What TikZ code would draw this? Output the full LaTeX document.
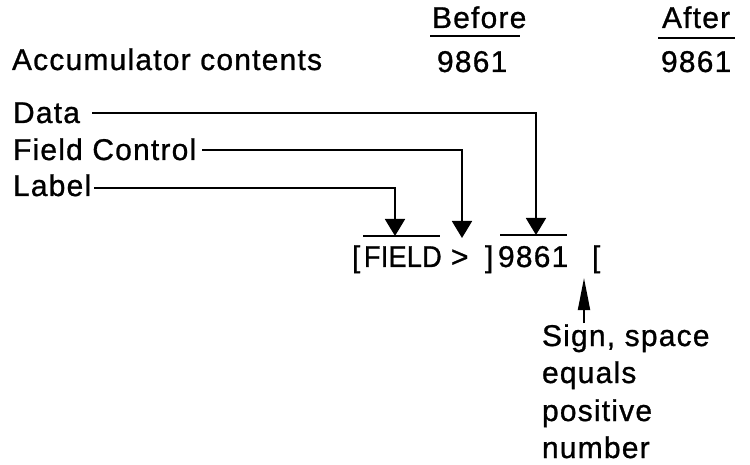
\documentclass[tikz,border=0pt]{standalone}
\usepackage{fontspec}
\setmainfont{Liberation Sans}[LetterSpace=4,FakeBold=0.9]
\usetikzlibrary{arrows.meta}
\begin{document}
\begin{tikzpicture}[x=1pt,y=-1pt,
  txt/.style={anchor=base west,inner sep=0pt,outer sep=0pt,font=\fontsize{30}{36}\selectfont},
  conn/.style={line width=1.9pt,-{Triangle[length=17pt,width=20pt]}},
  uparr/.style={line width=1.9pt,-{Triangle[length=32pt,width=12pt]}},
  bar/.style={line width=2.3pt},
  uline/.style={line width=1.7pt}]
\useasboundingbox[fill=white] (0,0) rectangle (750,465);
% header
\node[txt] (before) at (432,28) {Before};
\node[txt] (after) at (662,28) {After};
\draw[uline] (430,36) coordinate (bul) -- (520,36) coordinate (bur);
\draw[uline] (658,38) coordinate (aul) -- (735,38) coordinate (aur);
\node[txt] (acc) at (12,70) {Accumulator contents};
\node[txt] (vbefore) at (437,72) {9861};
\node[txt] (vafter) at (661,72) {9861};
% labels
\node[txt] (data) at (13,123) {Data};
\node[txt] (fc) at (13,160) {Field Control};
\node[txt] (label) at (13,196) {Label};
% instruction row
\node[txt] (lb1) at (352,267) {[};
\node[txt,font=\fontsize{30}{36}\selectfont\addfontfeature{FakeStretch=0.9,LetterSpace=1}] (field) at (364,267) {FIELD};
\node[txt] (gt) at (451,267) {>};
\node[txt] (rb) at (485,267) {]};
\node[txt] (num) at (498,267) {9861};
\node[txt] (lb2) at (592,267) {[};
% bars
\draw[bar] (363,236) coordinate (fbl) -- (440,236) coordinate (fbr);
\draw[bar] (500,235) coordinate (nbl) -- (567,235) coordinate (nbr);
% connectors
\coordinate (ds) at (92,113);
\coordinate (dt) at (536,235);
\coordinate (fs) at (202,150);
\coordinate (ft) at (462,238);
\coordinate (ls) at (94,188);
\coordinate (lt) at (395,236);
\draw[conn] (ds) -| (dt);
\draw[conn] (fs) -| (ft);
\draw[conn] (ls) -| (lt);
% sign note
\node[txt] (s1) at (542,346) {Sign, space};
\node[txt] (s2) at (542,383) {equals};
\node[txt] (s3) at (542,421) {positive};
\node[txt] (s4) at (542,458) {number};
\coordinate (ut) at (584,278);
\coordinate (us) at (584,323);
\draw[uparr] (us) -- (ut);
\end{tikzpicture}
\end{document}
